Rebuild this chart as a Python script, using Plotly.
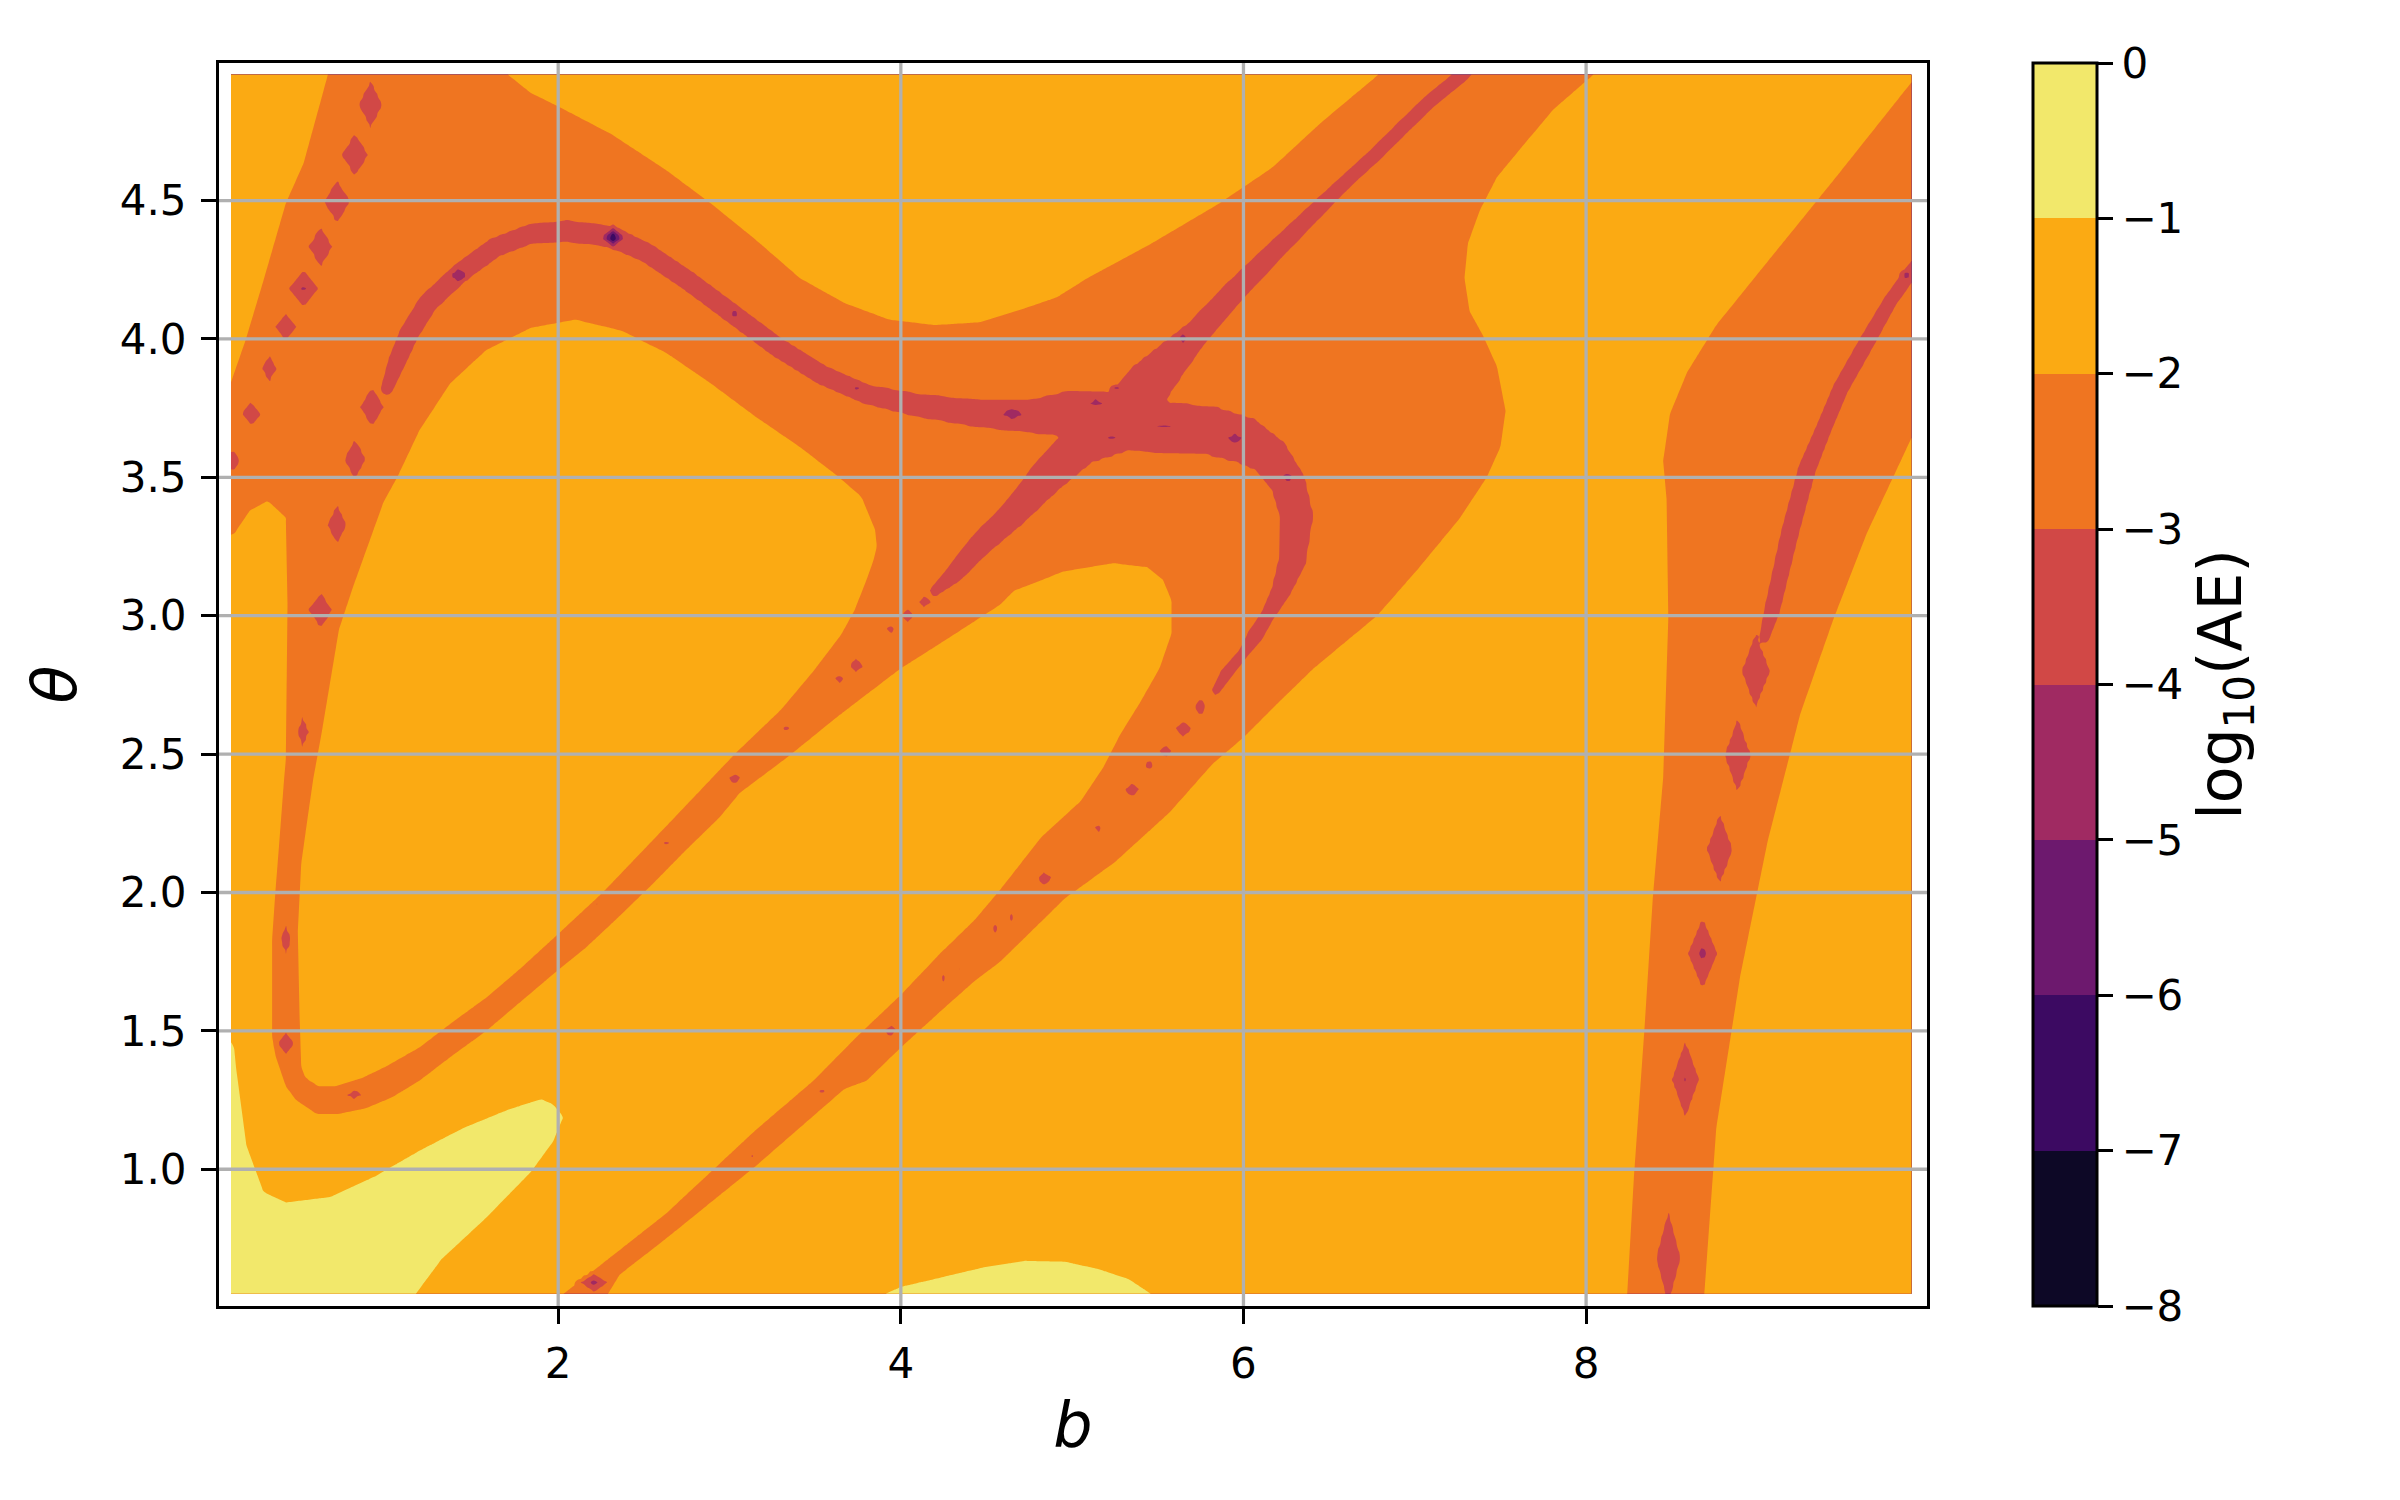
import numpy as np
import plotly.graph_objects as go

# ======================================================================================================
# Data  (b on x, theta on y, value = log10(AE))
# ======================================================================================================

b_extent = [0.09, 9.90]
theta_extent = [0.55, 4.955]

levels = list(range(-8, 1))
band_colors = ["#0d0826", "#3c0a62", "#6d196e", "#a02a62",
               "#d14846", "#ef7521", "#fbaa13", "#f2e86b"]

x_ticks = [2, 4, 6, 8]
y_ticks = [1.0, 1.5, 2.0, 2.5, 3.0, 3.5, 4.0, 4.5]

# outlines of the regions where -2 < log10(AE) < -1 ; elsewhere the error is in the -3..-2 band
corner_b = [-0.2, 0.76, 0.657, 0.514, 0.41, 0.279, 0.175, 0.107, 0.0, -0.2]
corner_theta = [5.2, 5.2, 4.958, 4.635, 4.49, 4.21, 3.995, 3.874, 3.68, 3.68]

top_b = [1.62, 1.70, 1.84, 2.00, 2.31, 2.63, 2.89, 3.15, 3.41, 3.67, 3.93, 4.20, 4.46, 4.72, 4.91,
         5.09, 5.45, 5.86, 6.17, 6.45, 6.79, 6.95]
top_theta = [5.2, 4.958, 4.889, 4.84, 4.74, 4.61, 4.49, 4.36, 4.22, 4.13, 4.07, 4.05, 4.06, 4.11, 4.15,
             4.22, 4.34, 4.49, 4.62, 4.78, 4.956, 5.2]

inner_b = [1.06, 1.19, 1.37, 1.58, 1.84, 2.10, 2.37, 2.63, 2.89, 3.15, 3.41, 3.62, 3.77, 3.85, 3.86,
           3.84, 3.80, 3.73, 3.65, 3.49, 3.30, 3.03, 2.77, 2.50, 2.26, 2.00, 1.77, 1.58, 1.38, 1.19,
           0.99, 0.856, 0.70, 0.60, 0.525, 0.50, 0.49, 0.48, 0.50, 0.535, 0.57, 0.62, 0.72, 0.80, 0.98]
inner_theta = [3.50, 3.67, 3.84, 3.96, 4.04, 4.07, 4.03, 3.95, 3.84, 3.72, 3.61, 3.51, 3.43, 3.31, 3.25,
               3.20, 3.13, 3.02, 2.93, 2.80, 2.66, 2.50, 2.33, 2.155, 2.0, 1.85, 1.72, 1.62, 1.53, 1.44,
               1.37, 1.33, 1.30, 1.30, 1.33, 1.37, 1.56, 1.86, 2.105, 2.26, 2.41, 2.58, 2.95, 3.10, 3.41]

lower_left_b = [-0.2, 0.107, 0.20, 0.305, 0.41, 0.42, 0.41, 0.40, 0.37, 0.35,
                0.33, 0.33, 0.35, 0.41, 0.47, 0.59, 0.72, 0.875, 1.03, 1.19,
                1.38, 1.58, 1.77, 2.00, 2.16, 2.35, 2.55, 2.74, 2.94, 3.06,
                3.34, 3.65, 4.00, 4.23, 4.43, 4.58, 4.66, 4.95, 5.24, 5.44,
                5.53, 5.58, 5.58, 5.51, 5.40, 5.28, 5.18, 5.05, 4.82, 4.58,
                4.43, 4.23, 4.00, 3.745, 3.49, 3.15, 2.63, 2.26, 2.03, 1.82, -0.2]
lower_left_theta = [3.25, 3.295, 3.38, 3.415, 3.355, 3.04, 2.48, 2.41, 2.165, 2.01,
                    1.83, 1.48, 1.41, 1.30, 1.25, 1.20, 1.20, 1.22, 1.26, 1.32,
                    1.41, 1.50, 1.60, 1.72, 1.80, 1.91, 2.03, 2.15, 2.27, 2.36,
                    2.49, 2.645, 2.81, 2.90, 2.98, 3.04, 3.09, 3.16, 3.19, 3.175,
                    3.13, 3.055, 2.935, 2.81, 2.69, 2.57, 2.45, 2.33, 2.20, 2.01,
                    1.90, 1.78, 1.63, 1.48, 1.32, 1.14, 0.84, 0.66, 0.55, 0.45, 0.45]

lower_right_b = [2.19, 2.29, 2.36, 2.63, 3.15, 3.67, 3.80, 4.00, 4.23, 4.43,
                 4.58, 4.96, 5.25, 5.57, 5.82, 6.00, 6.21, 6.41, 6.78, 7.02,
                 7.26, 7.42, 7.50, 7.53, 7.48, 7.40, 7.32, 7.29, 7.31, 7.38,
                 7.48, 7.62, 7.81, 8.045, 8.13, 10.1, 10.1, 9.89, 9.44, 9.06,
                 8.76, 8.59, 8.49, 8.45, 8.47, 8.48, 8.45, 8.39, 8.34, 8.28, 8.24, 8.22]
lower_right_theta = [0.45, 0.55, 0.62, 0.75, 1.01, 1.29, 1.32, 1.44, 1.57, 1.68,
                     1.75, 1.98, 2.11, 2.29, 2.465, 2.56, 2.69, 2.81, 3.00, 3.17,
                     3.35, 3.50, 3.61, 3.74, 3.90, 4.01, 4.10, 4.22, 4.345, 4.465,
                     4.585, 4.69, 4.83, 4.956, 5.1, 5.1, 5.08, 4.92, 4.57, 4.28,
                     4.05, 3.88, 3.73, 3.56, 3.42, 2.99, 2.415, 1.985, 1.50, 0.98, 0.55, 0.45]

right_b = [10.1, 9.89, 9.64, 9.445, 9.25, 9.06, 8.90, 8.76, 8.69, 8.68, 10.1]
right_theta = [3.91, 3.63, 3.30, 2.99, 2.645, 2.186, 1.70, 1.15, 0.55, 0.45, 0.45]

# outlines of the regions where log10(AE) > -1
yellow_left_b = [-0.2, 0.09, 0.108, 0.12, 0.18, 0.28, 0.41, 0.67, 0.93, 1.19, 1.45, 1.71, 1.90,
                 1.97, 2.03, 1.97, 1.84, 1.58, 1.32, 1.17, 1.10, -0.2]
yellow_left_theta = [1.47, 1.46, 1.44, 1.365, 1.086, 0.918, 0.88, 0.90, 0.974, 1.067, 1.15, 1.216, 1.253,
                     1.235, 1.19, 1.10, 0.99, 0.825, 0.676, 0.551, 0.45, 0.45]

yellow_bottom_b = [3.80, 3.91, 4.00, 4.24, 4.48, 4.72, 4.96, 5.16, 5.33, 5.46, 5.52]
yellow_bottom_theta = [0.45, 0.55, 0.575, 0.61, 0.645, 0.669, 0.666, 0.638, 0.603, 0.55, 0.45]

# ridges where log10(AE) < -3 : centre line and half width (theta units)
arc_b = [1.00, 1.06, 1.13, 1.24, 1.43, 1.63, 1.84, 2.05, 2.31, 2.52, 2.76, 3.02, 3.28, 3.54, 3.80,
         4.10, 4.46, 4.75, 5.00, 5.30]
arc_theta = [3.82, 3.92, 4.02, 4.13, 4.24, 4.33, 4.38, 4.39, 4.37, 4.31, 4.21, 4.09, 3.97, 3.87, 3.80,
             3.76, 3.73, 3.72, 3.73, 3.70]
arc_half = [0.022, 0.033, 0.036, 0.036, 0.036, 0.036, 0.036, 0.040, 0.040, 0.036, 0.036, 0.036, 0.036,
            0.036, 0.036, 0.043, 0.051, 0.061, 0.087, 0.108]

mid_b = [4.20, 4.31, 4.46, 4.66, 4.85, 5.05, 5.30]
mid_theta = [3.09, 3.15, 3.255, 3.37, 3.50, 3.62, 3.70]
mid_half = [0.018, 0.033, 0.043, 0.051, 0.065, 0.079, 0.108]

up_b = [5.30, 5.45, 5.60, 5.74, 5.93, 6.17, 6.45, 6.60, 6.76, 6.94, 7.09, 7.27, 7.40]
up_theta = [3.70, 3.84, 3.94, 4.03, 4.16, 4.31, 4.48, 4.57, 4.66, 4.77, 4.86, 4.95, 5.04]
up_half = [0.108, 0.087, 0.065, 0.047, 0.043, 0.036, 0.029, 0.025, 0.025, 0.025, 0.025, 0.025, 0.025]

curl_b = [5.30, 5.55, 5.80, 6.00, 6.15, 6.26, 6.31, 6.285, 6.22, 6.14, 6.07, 6.00, 5.90, 5.84]
curl_theta = [3.70, 3.68, 3.67, 3.635, 3.58, 3.48, 3.36, 3.20, 3.09, 3.00, 2.93, 2.865, 2.79, 2.73]
curl_half = [0.108, 0.094, 0.090, 0.087, 0.072, 0.065, 0.061, 0.051, 0.036, 0.025, 0.029, 0.018, 0.022, 0.014]

right_ridge_b = [9.04, 9.085, 9.19, 9.29, 9.39, 9.485, 9.64, 9.775, 9.89, 10.0]
right_ridge_theta = [2.92, 3.018, 3.30, 3.53, 3.68, 3.82, 3.99, 4.136, 4.236, 4.32]
right_ridge_half = [0.018, 0.029, 0.033, 0.033, 0.029, 0.029, 0.029, 0.025, 0.025, 0.025]

# isolated minima below -3: centre, half extent in b and theta, value at centre
red_dot_b = [0.905, 0.814, 0.709, 0.613, 0.514, 0.409, 0.313, 0.209, 0.100,
             0.913, 0.814, 0.709, 0.613, 0.51, 0.41, 0.41, 0.81,
             2.23, 2.63, 3.03, 3.33, 3.64, 3.74, 3.94, 4.04, 4.14,
             2.21, 3.13, 3.54, 3.94, 4.25, 4.35, 4.55, 4.645, 4.84, 5.15, 5.35, 5.45, 5.545, 5.65, 5.75,
             8.48, 8.58, 8.68, 8.78, 8.885, 8.99]
red_dot_theta = [4.847, 4.665, 4.496, 4.333, 4.182, 4.043, 3.893, 3.73, 3.56,
                 3.754, 3.566, 3.33, 3.02, 2.58, 1.83, 1.455, 1.27,
                 1.96, 2.18, 2.41, 2.59, 2.77, 2.82, 2.95, 3.00, 3.05,
                 0.59, 1.05, 1.28, 1.50, 1.69, 1.73, 1.87, 1.91, 2.05, 2.23, 2.37, 2.46, 2.51, 2.59, 2.67,
                 0.68, 1.325, 1.78, 2.157, 2.495, 2.80]
red_dot_db = [0.072, 0.080, 0.080, 0.072, 0.085, 0.066, 0.044, 0.058, 0.044,
              0.072, 0.066, 0.058, 0.072, 0.036, 0.036, 0.050, 0.050,
              0.012, 0.018, 0.041, 0.023, 0.029, 0.047, 0.029, 0.041, 0.035,
              0.082, 0.018, 0.023, 0.041, 0.018, 0.018, 0.023, 0.018, 0.047, 0.023, 0.047, 0.029, 0.035,
              0.053, 0.035,
              0.072, 0.080, 0.086, 0.080, 0.080, 0.086]
red_dot_dtheta = [0.088, 0.080, 0.080, 0.075, 0.066, 0.053, 0.053, 0.045, 0.045,
                  0.075, 0.075, 0.075, 0.066, 0.062, 0.058, 0.045, 0.018,
                  0.007, 0.007, 0.022, 0.014, 0.014, 0.025, 0.014, 0.022, 0.022,
                  0.033, 0.011, 0.011, 0.022, 0.011, 0.011, 0.014, 0.011, 0.025, 0.014, 0.025, 0.018, 0.022,
                  0.029, 0.033,
                  0.170, 0.140, 0.130, 0.130, 0.140, 0.140]
red_dot_value = [-3.5, -3.5, -3.5, -3.5, -4.2, -3.5, -3.4, -3.5, -3.4,
                 -3.5, -3.5, -3.5, -3.5, -3.4, -3.4, -3.5, -3.4,
                 -3.2, -3.3, -3.5, -3.4, -3.4, -3.5, -3.4, -3.5, -3.5,
                 -4.4, -3.3, -3.4, -3.5, -3.3, -3.3, -3.4, -3.3, -3.5, -3.4, -3.5, -3.4, -3.5, -3.5, -3.5,
                 -4.05, -4.1, -4.3, -3.5, -3.5, -3.5]

# deeper minima below -4 sitting on the ridges
deep_dot_b = [2.32, 1.42, 3.03, 3.74, 4.65, 5.14, 5.26, 5.54, 5.23, 5.95, 5.65, 6.26, 9.87]
deep_dot_theta = [4.367, 4.23, 4.09, 3.82, 3.73, 3.77, 3.82, 3.68, 3.64, 3.64, 4.00, 3.50, 4.23]
deep_dot_db = [0.070, 0.058, 0.029, 0.023, 0.070, 0.047, 0.029, 0.128, 0.041, 0.047, 0.029, 0.035, 0.047]
deep_dot_dtheta = [0.033, 0.025, 0.014, 0.011, 0.022, 0.014, 0.011, 0.007, 0.009, 0.018, 0.018, 0.022, 0.011]
deep_dot_value = [-7.3, -4.6, -4.4, -4.3, -4.7, -4.6, -4.4, -4.4, -4.4, -4.5, -4.4, -4.5, -4.5]

# ======================================================================================================
# Field on a fine grid
# ======================================================================================================

ASPECT = 171.3 / 276.9   # on screen one unit of b is this many units of theta

b_grid = np.linspace(b_extent[0], b_extent[1], 520)
theta_grid = np.linspace(theta_extent[0], theta_extent[1], 320)
bb, tt = np.meshgrid(b_grid, theta_grid)
X = bb * ASPECT
Y = tt


def segment(ax, ay, bx, by):
    dx, dy = bx - ax, by - ay
    t = np.clip(((X - ax) * dx + (Y - ay) * dy) / (dx * dx + dy * dy), 0, 1)
    return np.hypot(X - ax - t * dx, Y - ay - t * dy), t


def signed_distance(bs, ts):
    px = np.asarray(bs, float) * ASPECT
    py = np.asarray(ts, float)
    dist = np.full(X.shape, np.inf)
    inside = np.zeros(X.shape, bool)
    n = len(px)
    for i in range(n):
        j = (i + 1) % n
        d, _ = segment(px[i], py[i], px[j], py[j])
        dist = np.minimum(dist, d)
        if py[i] != py[j]:
            xc = (px[j] - px[i]) * (Y - py[i]) / (py[j] - py[i]) + px[i]
            inside ^= ((py[i] > Y) != (py[j] > Y)) & (X < xc)
    return np.where(inside, dist, -dist)


def ridge(bs, ts, half):
    px = np.asarray(bs, float) * ASPECT
    py = np.asarray(ts, float)
    out = np.full(X.shape, np.inf)
    for i in range(len(px) - 1):
        d, t = segment(px[i], py[i], px[i + 1], py[i + 1])
        w = half[i] + (half[i + 1] - half[i]) * t
        m = d - w
        out = np.minimum(out, np.where(m > 0, -3 + m / 0.029, -3 + 0.6 * m / w))
    return out


def dots(bs, ts, dbs, dts, values, edge):
    out = np.full(X.shape, np.inf)
    for b0, t0, db, dt, v in zip(bs, ts, dbs, dts, values):
        e = np.abs(bb - b0) / db + np.abs(tt - t0) / dt
        out = np.minimum(out, np.where(e < 1, v + (edge - v) * e, edge + 3 * (e - 1)))
    return out


background = [(corner_b, corner_theta), (top_b, top_theta), (inner_b, inner_theta),
              (lower_left_b, lower_left_theta), (lower_right_b, lower_right_theta),
              (right_b, right_theta)]
sd_bg = np.max([signed_distance(b, t) for b, t in background], axis=0)
z = np.clip(-2 + sd_bg / 0.072, -2.8, -1.2)

yellow = [(yellow_left_b, yellow_left_theta), (yellow_bottom_b, yellow_bottom_theta)]
sd_y = np.max([signed_distance(b, t) for b, t in yellow], axis=0)
z = np.maximum(z, np.clip(-1 + sd_y / 0.072, -3, -0.3))

for b, t, h in [(arc_b, arc_theta, arc_half), (mid_b, mid_theta, mid_half),
                (up_b, up_theta, up_half), (curl_b, curl_theta, curl_half),
                (right_ridge_b, right_ridge_theta, right_ridge_half)]:
    z = np.minimum(z, ridge(b, t, h))

z = np.minimum(z, dots(red_dot_b, red_dot_theta, red_dot_db, red_dot_dtheta, red_dot_value, -3))
z = np.minimum(z, dots(deep_dot_b, deep_dot_theta, deep_dot_db, deep_dot_dtheta, deep_dot_value, -4))
z = np.round(np.clip(z, -7.95, -0.05), 3)

# ======================================================================================================
# Plot
# ======================================================================================================

colorscale = []
for i, c in enumerate(band_colors):
    colorscale += [[i / len(band_colors), c], [(i + 1) / len(band_colors), c]]

fig = go.Figure(go.Contour(
    x=b_grid, y=theta_grid, z=z,
    zmin=levels[0], zmax=levels[-1],
    autocontour=False,
    contours=dict(start=levels[0], end=levels[-1], size=1, coloring='fill', showlines=False),
    line=dict(width=0),
    colorscale=colorscale,
    colorbar=dict(
        x=1.0621, xanchor='left', y=0.5, yanchor='middle',
        len=1, lenmode='fraction', thickness=64, thicknessmode='pixels',
        xpad=0, ypad=0, outlinewidth=3, outlinecolor='black',
        tickvals=levels, ticks='outside', ticklen=15, tickwidth=3, tickcolor='black',
        tickfont=dict(size=42),
        title=dict(text='log<sub>10</sub>(AE)', side='right', font=dict(size=60)),
    ),
))

grid_style = dict(color='#b0b0b0', width=3.3)
shapes = [dict(type='line', xref='x', yref='paper', x0=v, x1=v, y0=0, y1=1, line=grid_style, layer='above')
          for v in x_ticks]
shapes += [dict(type='line', xref='paper', yref='y', x0=0, x1=1, y0=v, y1=v, line=grid_style, layer='above')
           for v in y_ticks]

axis_style = dict(ticks='outside', ticklen=15, tickwidth=3, tickcolor='black',
                  showline=True, linewidth=3, linecolor='black', mirror=True,
                  showgrid=False, zeroline=False, tickfont=dict(size=42))

# the page body adds an 8 px offset, so the margins are shifted to keep the frame where the reference has it
fig.update_layout(
    width=2400, height=1500,
    margin=dict(l=211, r=481, t=55, b=202, autoexpand=False),
    paper_bgcolor='white', plot_bgcolor='white',
    font=dict(family='DejaVu Sans', size=42, color='black'),
    xaxis=dict(range=[0.02, 9.99], tickvals=x_ticks, ticklabelstandoff=4,
               title=dict(text='<i>b</i>', font=dict(size=62), standoff=16), **axis_style),
    yaxis=dict(range=[0.506, 4.997], tickvals=y_ticks, tickformat='.1f', ticklabelstandoff=6,
               title=dict(text='<i>θ</i>', font=dict(size=62), standoff=24), **axis_style),
    shapes=shapes,
)

fig.write_html("out.html")
